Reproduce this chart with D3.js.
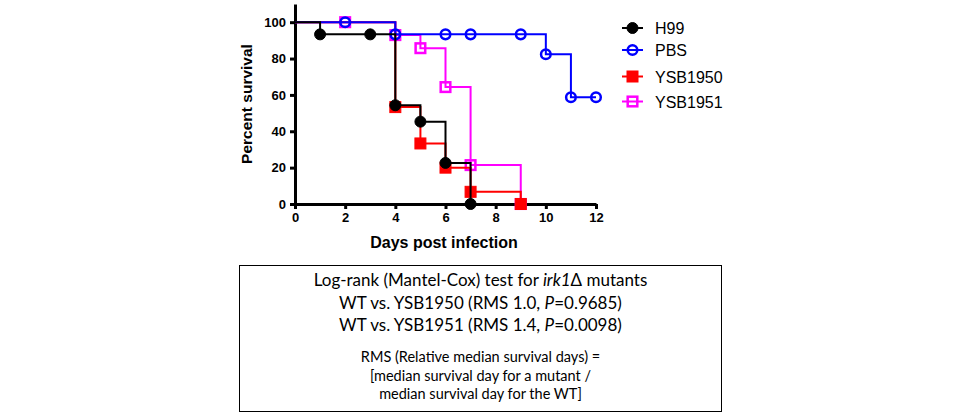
<!DOCTYPE html>
<html>
<head>
<meta charset="utf-8">
<script src="https://cdn.jsdelivr.net/npm/d3@7"></script>
<style>
    body { margin: 0; background: #fff; }
    .axis path, .axis line { stroke: #000; stroke-width: 3px; }
    .axis text { font-family: "Liberation Sans", Arial, sans-serif; font-weight: bold; font-size: 13px; fill: #000; }
    .boxtext { font-family: Lato, "Open Sans", sans-serif; fill: #000; }
</style>
</head>
<body>
<svg id="chart" width="960" height="415"></svg>
<script>
// survival data (day, percent)
let seriesNames = ["H99", "PBS", "YSB1950", "YSB1951"];
let seriesColors = ["#000000", "#0000ff", "#ff0000", "#ff00ff"];

let h99Days = [0, 1, 3, 4, 5, 6, 7];
let h99Survival = [100, 93.3, 93.3, 54.3, 45.3, 22.6, 0];

let pbsDays = [0, 2, 4, 6, 7, 9, 10, 11, 12];
let pbsSurvival = [100, 100, 93.3, 93.3, 93.3, 93.3, 82.4, 58.7, 58.7];

let ysb1950Days = [0, 4, 5, 6, 7, 9];
let ysb1950Survival = [100, 53.3, 33.3, 20, 6.7, 0];

let ysb1951Days = [0, 2, 4, 5, 6, 7, 9];
let ysb1951Survival = [100, 100, 92.9, 85.7, 64.3, 21.4, 0];

let xTicks = [0, 2, 4, 6, 8, 10, 12];
let yTicks = [0, 20, 40, 60, 80, 100];

let boxLines = [
    ["Log-rank (Mantel-Cox) test for ", "irk1", "Δ mutants"],
    ["WT vs. YSB1950 (RMS 1.0, ", "P", "=0.9685)"],
    ["WT vs. YSB1951 (RMS 1.4, ", "P", "=0.0098)"]
];
let noteLines = [
    "RMS (Relative median survival days) =",
    "[median survival day for a mutant  /",
    "median survival day for the WT]"
];

let svg = d3.select("#chart");

let x = d3.scaleLinear().domain([0, 12]).range([295, 596]);
let y = d3.scaleLinear().domain([0, 110]).range([204, 4]);

svg.append("g")
    .attr("class", "axis")
    .attr("transform", "translate(0,204)")
    .call(d3.axisBottom(x).tickValues(xTicks).tickSize(5).tickSizeOuter(0).tickPadding(4));

svg.append("g")
    .attr("class", "axis")
    .attr("transform", "translate(295,0)")
    .call(d3.axisLeft(y).tickValues(yTicks).tickSize(5).tickSizeOuter(0).tickPadding(4));

svg.append("text")
    .attr("transform", "translate(252,104) rotate(-90)")
    .attr("text-anchor", "middle")
    .style("font-family", "Liberation Sans, Arial, sans-serif")
    .style("font-weight", "bold")
    .style("font-size", "15.5px")
    .text("Percent survival");

svg.append("text")
    .attr("x", 444)
    .attr("y", 248)
    .attr("text-anchor", "middle")
    .style("font-family", "Liberation Sans, Arial, sans-serif")
    .style("font-weight", "bold")
    .style("font-size", "16px")
    .text("Days post infection");

let series = [
    {name: "YSB1951", days: ysb1951Days, surv: ysb1951Survival, color: seriesColors[3], shape: "square", filled: false},
    {name: "YSB1950", days: ysb1950Days, surv: ysb1950Survival, color: seriesColors[2], shape: "square", filled: true},
    {name: "PBS", days: pbsDays, surv: pbsSurvival, color: seriesColors[1], shape: "circle", filled: false},
    {name: "H99", days: h99Days, surv: h99Survival, color: seriesColors[0], shape: "circle", filled: true}
];

let line = d3.line()
    .x(d => x(d[0]))
    .y(d => y(d[1]))
    .curve(d3.curveStepAfter);

// draws one marker at (cx, cy)
function drawMarker(g, s, cx, cy) {
    if (s.shape === "circle") {
        g.append("circle")
            .attr("cx", cx).attr("cy", cy)
            .attr("r", s.filled ? 5.5 : 4.8)
            .attr("fill", s.filled ? s.color : "none")
            .attr("stroke", s.color)
            .attr("stroke-width", s.filled ? 1 : 2.5);
    } else {
        let half = s.filled ? 5.5 : 4.8;
        g.append("rect")
            .attr("x", cx - half).attr("y", cy - half)
            .attr("width", half * 2).attr("height", half * 2)
            .attr("fill", s.filled ? s.color : "none")
            .attr("stroke", s.color)
            .attr("stroke-width", s.filled ? 1 : 2.5);
    }
}

series.forEach(s => {
    let pts = d3.zip(s.days, s.surv);
    let g = svg.append("g");
    g.append("path")
        .datum(pts)
        .attr("d", line)
        .attr("fill", "none")
        .attr("stroke", s.color)
        .attr("stroke-width", 2);
    pts.filter(p => p[0] > 0).forEach(p => drawMarker(g, s, x(p[0]), y(p[1])));
});

// legend
let legendY = [28, 50, 76.5, 101.5];
seriesNames.forEach((name, i) => {
    let s = series.find(d => d.name === name);
    let g = svg.append("g");
    g.append("line")
        .attr("x1", 622).attr("x2", 643)
        .attr("y1", legendY[i]).attr("y2", legendY[i])
        .attr("stroke", s.color)
        .attr("stroke-width", 2);
    drawMarker(g, s, 632.5, legendY[i]);
    g.append("text")
        .attr("x", 655)
        .attr("y", legendY[i] + 6)
        .style("font-family", "Liberation Sans, Arial, sans-serif")
        .style("font-size", "16px")
        .text(name);
});

// stats box
svg.append("rect")
    .attr("x", 239.5).attr("y", 265.5)
    .attr("width", 482).attr("height", 146)
    .attr("fill", "none")
    .attr("stroke", "#000")
    .attr("stroke-width", 1);

let headY = [286, 309, 331];
boxLines.forEach((parts, i) => {
    let t = svg.append("text")
        .attr("class", "boxtext")
        .attr("x", 480.5)
        .attr("y", headY[i])
        .attr("text-anchor", "middle")
        .style("font-size", "17px");
    t.append("tspan").text(parts[0]);
    t.append("tspan").style("font-style", "italic").text(parts[1]);
    t.append("tspan").text(parts[2]);
});

let noteY = [362, 381, 399];
noteLines.forEach((txt, i) => {
    svg.append("text")
        .attr("class", "boxtext")
        .attr("x", 480.5)
        .attr("y", noteY[i])
        .attr("text-anchor", "middle")
        .style("font-size", "14.5px")
        .text(txt);
});
</script>
</body>
</html>
